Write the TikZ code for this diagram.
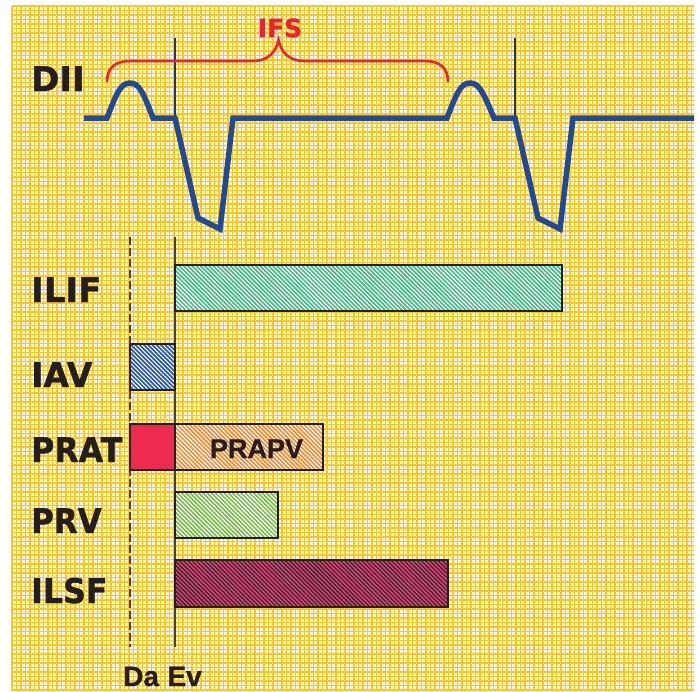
\documentclass[tikz,border=0pt]{standalone}
\usepackage{fontspec}
\newfontfamily\vera{DejaVu Sans}[BoldFeatures={FakeBold=1.2}]
\newfontfamily\arial{Liberation Sans}[BoldFeatures={FakeBold=1}]
\usetikzlibrary{patterns.meta}
\definecolor{gridgold}{RGB}{255,198,30}
\definecolor{paper}{RGB}{255,248,225}
\definecolor{ecgblue}{RGB}{30,74,158}
\definecolor{navy}{RGB}{28,52,120}
\definecolor{ifsred}{RGB}{236,34,48}
\definecolor{ink}{RGB}{35,31,32}
\definecolor{ilifcol}{RGB}{70,185,135}
\definecolor{iavcol}{RGB}{40,85,175}
\definecolor{pratcol}{RGB}{238,42,80}
\definecolor{prapvcol}{RGB}{245,140,50}
\definecolor{prvcol}{RGB}{125,185,80}
\definecolor{ilsfcol}{RGB}{205,70,115}
\definecolor{ilsfdark}{RGB}{55,30,40}
\tikzset{
  gridline/.style={
    draw = gridgold,
    line width = 1.4pt
  },
}
\tikzset{
  lbl/.style={
    anchor = base west,
    inner sep = 0pt,
    text = ink,
    font = \vera\bfseries\fontsize{34}{40}\selectfont
  },
  small/.style={
    inner sep = 0pt,
    text = ink,
    font = \arial\bfseries\fontsize{27}{32}\selectfont
  },
}
\tikzset{
  barbox/.style={
    draw = ink,
    line width = 1.4pt,
    inner sep = 0pt,
    outer sep = 0pt,
    anchor = north west,
    preaction = {fill=#1},
    pattern = {Lines[angle=-45,distance=3pt,line width=1.1pt]},
    pattern color = white
  },
  solidbox/.style={
    draw = ink,
    line width = 1.4pt,
    inner sep = 0pt,
    outer sep = 0pt,
    anchor = north west,
    fill = #1
  },
  ecg/.style={
    draw = ecgblue,
    line width = 5.5pt
  },
  brace/.style={
    draw = ifsred,
    line width = 2.6pt
  },
  evline/.style={
    draw = ink!85,
    line width = 1.3pt
  },
  daline/.style={
    draw = ink!85,
    line width = 1.3pt,
    dash pattern = on 8pt off 3pt
  }
}

\begin{document}
\begin{tikzpicture}[x=1pt,y=-1pt]
    \def\gap{4.5}
    \def\hgt{46pt}
    \useasboundingbox (0,0) rectangle (700,691);
    % paper
    \fill[paper] (12,6) rectangle (694,691);
    \foreach \gx in {12,16.5,...,694}{
    \draw[gridline] (\gx,6) -- (\gx,691);}
    \foreach \gy in {6,10.5,...,691}{
    \draw[gridline] (12,\gy) -- (694,\gy);}
    % lead II
    \coordinate (qrsa) at (175,38);
    \coordinate (qrsab) at (175,118);
    \coordinate (qrsb) at (515,38);
    \coordinate (qrsbb) at (515,118);
    \draw[draw=navy, line width=2pt] (qrsa) -- (qrsab);
    \draw[draw=navy, line width=2pt] (qrsb) -- (qrsbb);
    \draw[ecg] (84,118) -- (107,118)
      .. controls (117,92) and (121,83) .. (130,83)
      .. controls (139,83) and (143,92) .. (153,118)
      -- (175,118) -- (198,218) -- (220,229) -- (233,118) -- (447,118)
      .. controls (457,92) and (461,83) .. (470,83)
      .. controls (479,83) and (483,92) .. (494,118)
      -- (515,118) -- (538,218) -- (560,229) -- (573,118) -- (694,118);
    \draw[brace] (107,82) .. controls (107,68) and (115,61) .. (130,61)
      -- (253,61) .. controls (268,61) and (276,52) .. (278.5,40)
      .. controls (281,52) and (289,61) .. (304,61)
      -- (425,61) .. controls (440,61) and (448,68) .. (448,82);
    \node[lbl] (dii) at (31,91) {DII};
    \node[lbl, anchor=base, text=ifsred, font=\vera\bfseries\fontsize{25}{30}\selectfont] (ifs) at (280,37) {IFS};
    % intervals
    \coordinate (datop) at (130,237);
    \coordinate (dabot) at (130,647);
    \coordinate (evtop) at (175,237);
    \coordinate (evbot) at (175,647);
    \draw[daline] (datop) -- (dabot);
    \draw[evline] (evtop) -- (evbot);
    \node[barbox=ilifcol, minimum width=387pt, minimum height=\hgt] (ilifbar) at (175,265) {};
    \node[barbox=iavcol, minimum width=45pt, minimum height=\hgt] (iavbar) at (130,344) {};
    \node[solidbox=pratcol, minimum width=45pt, minimum height=\hgt] (pratbar) at (130,424) {};
    \node[barbox=prapvcol, minimum width=148pt, minimum height=\hgt] (prapvbar) at (175,424) {};
    \node[barbox=prvcol, minimum width=103pt, minimum height=\hgt] (prvbar) at (175,492) {};
    \node[barbox=ilsfcol, pattern color=ilsfdark, minimum width=273pt, minimum height=47pt] (ilsfbar) at (175,560) {};
    \node[small, anchor=base] (prapv) at (256.5,458) {PRAPV};
    \node[lbl] (ilif) at (31,302) {ILIF};
    \node[lbl] (iav) at (31,387) {\scalebox{0.97}[1]{IAV}};
    \node[lbl] (prat) at (31,462) {\scalebox{0.93}[1]{PRAT}};
    \node[lbl] (prv) at (31,533) {\scalebox{0.91}[1]{PRV}};
    \node[lbl] (ilsf) at (31,603) {\scalebox{0.93}[1]{ILSF}};
    \node[small, anchor=base west, font=\arial\bfseries\fontsize{28}{32}\selectfont] (da) at (123,686) {Da};
    \node[small, anchor=base east, font=\arial\bfseries\fontsize{28}{32}\selectfont] (ev) at (202,686) {Ev};
\end{tikzpicture}
\end{document}
